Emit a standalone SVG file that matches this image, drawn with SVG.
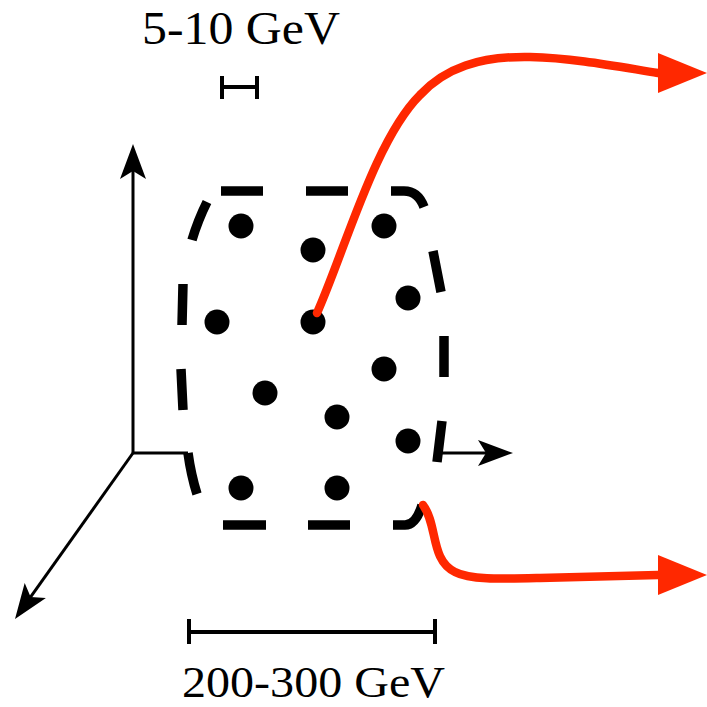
<svg xmlns="http://www.w3.org/2000/svg" width="707" height="707" viewBox="0 0 707 707">
<style>
.axis{fill:none;stroke:#000;stroke-width:3}
.bar{fill:none;stroke:#000;stroke-width:4}
.dash{fill:none;stroke:#000;stroke-width:9.5}
.red{fill:none;stroke:#ff2800;stroke-width:8.5;stroke-linecap:round}
.dot{fill:#000}
.lbl{font-family:"Liberation Serif","DejaVu Serif",serif;font-size:46px;fill:#000;text-anchor:start}
</style>
<defs>
<marker id="stealth" viewBox="-37 -15 39 30" refX="-20" refY="0" markerWidth="39" markerHeight="30" markerUnits="userSpaceOnUse" orient="auto">
<path d="M0,0 L-35,-13 L-27,0 L-35,13 Z" fill="#000"/>
</marker>
<marker id="tri" viewBox="-1 -21 51 42" refX="0" refY="0" markerWidth="51" markerHeight="42" markerUnits="userSpaceOnUse" orient="0">
<path d="M0,-20 L49,0 L0,20 Z" fill="#ff2800"/>
</marker>
</defs>
<g id="labels">
<text class="lbl" x="142" y="44" textLength="198" lengthAdjust="spacingAndGlyphs">5-10 GeV</text>
<text class="lbl" x="182" y="697" style="font-size:45px" textLength="263" lengthAdjust="spacingAndGlyphs">200-300 GeV</text>
</g>
<g id="scalebars">
<path class="bar" d="M222,87 H257 M222,76 V99 M257,76 V99"/>
<path class="bar" d="M189,632 H435 M189,619 V644 M435,619 V644"/>
</g>
<g id="connectors">
<path class="axis" d="M133,453 V164" marker-end="url(#stealth)"/>
<path class="axis" d="M133,453 L26.6,602.7" marker-end="url(#stealth)"/>
<path class="axis" d="M133,453 H188"/>
<path class="axis" d="M440,453 H493" marker-end="url(#stealth)"/>
</g>
<g id="region">
<path class="dash" d="M221,191 H263 M306,191 H348 M391,191 H404 Q418,191 424,207 M433,251 L441,292 M444,336 L444,377 M442,421 L437,462 M393,525 H405 Q416,525 422,505 M350,525 H308 M266,525 H223 M197,494 Q191,475 188,453 M183,410 L181,369 M182,325 L183,284 M192,240 Q198,220 207,202"/>
</g>
<g id="particles">
<circle class="dot" cx="241" cy="226" r="12.5"/>
<circle class="dot" cx="313" cy="250" r="12.5"/>
<circle class="dot" cx="384" cy="226" r="12.5"/>
<circle class="dot" cx="217" cy="322" r="12.5"/>
<circle class="dot" cx="313" cy="322" r="12.5"/>
<circle class="dot" cx="408" cy="298" r="12.5"/>
<circle class="dot" cx="384" cy="369" r="12.5"/>
<circle class="dot" cx="265" cy="393" r="12.5"/>
<circle class="dot" cx="337" cy="417" r="12.5"/>
<circle class="dot" cx="408" cy="441" r="12.5"/>
<circle class="dot" cx="241" cy="488" r="12.5"/>
<circle class="dot" cx="337" cy="488" r="12.5"/>
</g>
<g id="jets">
<path class="red" d="M317,313 C345,250 375,140 420,95 C445,68 480,56 530,57 C575,58 620,67 658,73" marker-end="url(#tri)"/>
<path class="red" d="M423,505 C438,525 430,560 455,572 C470,580 500,579 540,578 L658,575" marker-end="url(#tri)"/>
</g>
</svg>
